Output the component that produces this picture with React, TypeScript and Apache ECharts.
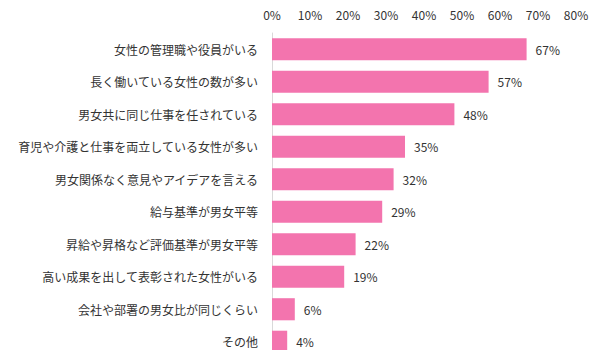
import React, { useEffect, useRef } from "react";
import * as echarts from "echarts";

const categories = [
  "女性の管理職や役員がいる",
  "長く働いている女性の数が多い",
  "男女共に同じ仕事を任されている",
  "育児や介護と仕事を両立している女性が多い",
  "男女関係なく意見やアイデアを言える",
  "給与基準が男女平等",
  "昇給や昇格など評価基準が男女平等",
  "高い成果を出して表彰された女性がいる",
  "会社や部署の男女比が同じくらい",
  "その他",
];
const values = [67, 57, 48, 35, 32, 29, 22, 19, 6, 4];
const xTicks = [0, 10, 20, 30, 40, 50, 60, 70, 80];

export default function App() {
  const ref = useRef<HTMLDivElement>(null);
  useEffect(() => {
    if (!ref.current) return;
    const chart = echarts.init(ref.current, undefined, { renderer: "svg" });
    const font = "'Noto Sans CJK JP', 'Noto Sans', sans-serif";
    chart.setOption({
      animation: false,
      grid: { left: 272, right: 29, top: 33, bottom: 0, containLabel: false },
      xAxis: {
        type: "value",
        position: "top",
        min: xTicks[0],
        max: xTicks[xTicks.length - 1],
        interval: 10,
        axisLine: { show: false },
        axisTick: { show: false },
        splitLine: { show: false },
        axisLabel: {
          formatter: "{value}%",
          color: "#333",
          fontSize: 12,
          fontFamily: font,
          margin: 13,
        },
      },
      yAxis: {
        type: "category",
        inverse: true,
        data: categories,
        axisLine: { show: true, lineStyle: { color: "#d9d9d9", width: 1 } },
        axisTick: { show: false },
        axisLabel: { color: "#333", fontSize: 12, fontFamily: font, margin: 14 },
      },
      series: [
        {
          type: "bar",
          data: values,
          barWidth: "68%",
          itemStyle: { color: "#F374AE" },
          label: {
            show: true,
            position: "right",
            distance: 9,
            formatter: "{c}%",
            color: "#333",
            fontSize: 12,
            fontFamily: font,
          },
        },
      ],
    });
    return () => chart.dispose();
  }, []);
  return <div ref={ref} style={{ width: 605, height: 358, margin: -8 }} />;
}
